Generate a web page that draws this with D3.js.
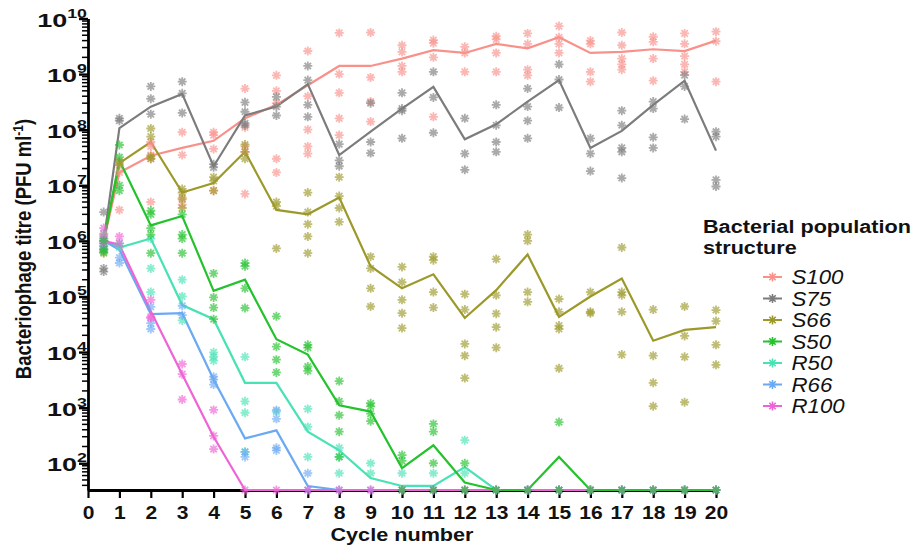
<!DOCTYPE html>
<html>
<head>
<meta charset="utf-8">
<script src="https://cdn.jsdelivr.net/npm/d3@7"></script>
<style>
  body { margin: 0; background: #fff; }
  svg { font-family: "Liberation Sans", Arial, sans-serif; }
</style>
</head>
<body>
<svg id="chart" width="917" height="548"></svg>
<script>
// detection limit, plotted on the x axis
const LOD = 33;

const cycles = [0.5, 1, 2, 3, 4, 5, 6, 7, 8, 9, 10, 11, 12, 13, 14, 15, 16, 17, 18, 19, 20];
const xTicks = d3.range(0, 21);
const yExponents = [2, 3, 4, 5, 6, 7, 8, 9, 10];

const seriesNames = ['S100', 'S75', 'S66', 'S50', 'R50', 'R66', 'R100'];
const seriesColors = ['#F9918B', '#7C7C7C', '#9C992A', '#24C22C', '#48E2B4', '#6BA9F2', '#EE63D6'];

// mean titres
const meanS100 = [1e6, 1.7e7, 3.4e7, 4.7e7, 6.3e7, 1.6e8, 2.8e8, 6.3e8, 1.4e9, 1.4e9, 1.9e9, 2.7e9, 2.4e9, 3.5e9, 2.9e9, 4.6e9, 2.4e9, 2.5e9, 2.8e9, 2.6e9, 4e9];
const meanS75 = [1e6, 1.07e8, 2.6e8, 4.4e8, 2.2e7, 1.8e8, 2.6e8, 6.6e8, 3.5e7, 9.2e7, 2.4e8, 5.9e8, 6.7e7, 1.25e8, 3.2e8, 7.8e8, 4.7e7, 9.5e7, 2.8e8, 7.6e8, 4.2e7];
const meanS66 = [1e6, 2.5e7, 6e7, 7.4e6, 1.1e7, 4e7, 3.6e6, 3e6, 6e6, 3.5e5, 1.4e5, 2.5e5, 4.1e4, 1.3e5, 5.7e5, 4.3e4, 1e5, 2.1e5, 1.6e4, 2.5e4, 2.8e4];
const meanS50 = [1e6, 2.8e7, 1.9e6, 2.8e6, 1.26e5, 2e5, 1.7e4, 9e3, 1.1e3, 8.5e2, 82, 2.1e2, 45, LOD, LOD, 1.3e2, LOD, LOD, LOD, LOD, LOD];
const meanR50 = [1e6, 7.6e5, 1.1e6, 7e4, 3.9e4, 2.8e3, 2.8e3, 3.7e2, 1.7e2, 54, 39, 39, 85, LOD, LOD, LOD, LOD, LOD, LOD, LOD, LOD];
const meanR66 = [1e6, 6.9e5, 4.8e4, 5e4, 3.2e3, 2.8e2, 3.9e2, 39, LOD, LOD, LOD, LOD, LOD, LOD, LOD, LOD, LOD, LOD, LOD, LOD, LOD];
const meanR100 = [1e6, 8.5e5, 5.4e4, 4e3, 3e2, LOD, LOD, LOD, LOD, LOD, LOD, LOD, LOD, LOD, LOD, LOD, LOD, LOD, LOD, LOD, LOD];

// individual replicate titres, one list per cycle
const repS100 = [
  [1.3e6, 9e5, 7e5], [2.5e7, 1.7e7, 3.6e6], [6e7, 5e7, 3.5e7, 3e7, 5e6], [9e7, 3.5e7, 6e6, 4.5e6],
  [9e7, 8e7, 4.5e7, 8e6], [5.5e8, 1.1e8, 5e7, 4e7, 7e6], [9.5e8, 5e8, 3e8, 3e7, 1.7e7],
  [2.6e9, 4e8, 1e8, 5e7, 3.7e7], [5.5e9, 1e9, 4.6e8, 1.6e8, 8e7], [5.6e9, 8.7e8, 3.2e8, 1.4e8],
  [3.3e9, 2.5e9, 1.4e9, 1.1e9], [4.1e9, 3.6e9, 2e9, 1.7e8], [3.1e9, 2.4e9, 1.1e9],
  [4.8e9, 4.2e9, 2.4e9, 1.1e9], [5.4e9, 3.5e9, 1.2e9, 9.5e8], [7.3e9, 4.6e9, 3.5e9, 2.4e9],
  [4e9, 3.5e9, 1.1e9, 7.3e8], [5.6e9, 3.3e9, 1.9e9, 1.5e9, 1.2e9], [4.7e9, 3.8e9, 1.9e9, 7.6e8],
  [5.4e9, 3.5e9, 2.1e9, 1.5e9, 1.1e9], [5.8e9, 3.9e9, 7.3e8]
];
const repS75 = [
  [3.3e6, 1e6, 2.8e5, 3.2e5], [1.6e8, 1.45e8], [6e8, 3.6e8, 1.9e8], [7.3e8, 4.5e8, 2e8],
  [2.4e7, 2.1e7], [3.1e8, 2.1e8, 1.3e8, 1.2e8], [3.9e8, 2.6e8, 1.8e8],
  [1.4e9, 7.8e8, 2.8e8, 1.7e8], [5.5e7, 2.8e7, 2.2e7], [3e8, 6e7, 3.8e7],
  [4.6e8, 2.4e8, 2.2e8, 7e7], [1.1e9, 3.8e8, 8.8e7], [1.6e8, 3.7e7, 1.9e7],
  [2.8e8, 1.2e8, 6e7, 4e7], [5.5e8, 2.6e8, 1.45e8, 7e7], [1.5e9, 8e8, 2.5e8],
  [7e7, 3.7e7, 1.8e7], [2.2e8, 1.2e8, 4.7e7, 4e7, 1.35e7], [3.2e8, 2.4e8, 7.3e7, 4.7e7],
  [9.6e8, 6e8, 1.55e8], [9.2e7, 7.5e7, 1.25e7, 9.5e6]
];
const repS66 = [
  [8e5, 1.1e6, 6e5], [2.7e7, 2.3e7], [1.05e8, 7.5e7, 3.3e7, 3e7], [8.6e6, 7.4e6, 5.6e6, 3.9e6],
  [1.4e7, 1.2e7, 8e6], [5.4e7, 4e7, 3e7], [5e6, 4.2e6, 7.3e5],
  [7.4e6, 3.3e6, 2e6, 1.2e6, 6e5], [1.4e7, 6.4e6, 3.9e6, 2.2e6], [5.2e5, 3.2e5, 1.4e5, 6.6e4],
  [3.4e5, 1.8e5, 8.7e4, 5e4, 2.7e4], [5.2e5, 4.5e5, 1.2e5, 6.3e4], [1.1e5, 5.8e4, 1.4e4, 8.6e3, 3.4e3],
  [4.7e5, 1.05e5, 4.9e4, 2.8e4, 1.2e4], [1.3e6, 1e6, 1.2e5, 8e4], [9e4, 5.3e4, 3e4, 2.6e4, 5.1e3],
  [1.2e5, 5.3e4, 5e4], [7.6e5, 1.2e5, 1.05e5, 5.3e4, 9e3], [5.8e4, 8.6e3, 2.8e3, 1.06e3],
  [6.6e4, 1.95e4, 8.2e3, 1.25e3], [5.7e4, 3.6e4, 1.35e4, 5.9e3]
];
const repS50 = [
  [1e6, 7e5, 6.3e5], [5.3e7, 3.2e7, 1e7, 8e6], [3.5e6, 3e6, 1.7e6, 1.3e6, 6e5], [3e6, 1.3e6, 1.1e6, 6e5],
  [2.6e5, 9.6e4, 6.3e4, 3.9e4], [4e5, 3.5e5, 1.4e5, 6.2e4], [4.4e4, 1.25e4, 7.3e3, 4.3e3],
  [1.35e4, 1.2e4, 5.5e3, 4.6e3], [3e3, 1.3e3, 7.3e2, 3.7e2, 1.3e2], [1.2e3, 1.05e3, 7.8e2, 5.7e2],
  [1.4e2, 1.1e2, LOD], [5.1e2, 3.7e2, 1e2, LOD], [1e2, LOD],
  [LOD], [LOD], [5.5e2, LOD], [LOD], [LOD], [LOD], [LOD], [LOD]
];
const repR50 = [
  [1.35e6, 1.1e6, 9e5], [7.6e5, 9e5], [1.1e6, 3.2e5, 1.2e5], [2e5, 1e5, 3.7e4],
  [9.9e3, 8.2e3, 7e3], [8.2e3, 1.3e3, 8.1e2, 1.6e2], [8.5e2],
  [9.5e2, 4.5e2, 1.3e2], [1.9e2, 1.3e2, 66], [1e2, 66], [66], [66], [2.6e2, 66],
  [LOD], [LOD], [LOD], [LOD], [LOD], [LOD], [LOD], [LOD]
];
const repR66 = [
  [1e6, 8e5, 7e5], [5e5, 4e5], [6.5e4, 3.3e4, 2.6e4], [6.8e4, 4.6e4],
  [3.6e3, 3.2e3, 2.6e3], [1.3e2, 1.6e2], [9e2, 6.3e2, 1.9e2, 1.7e2],
  [66, LOD], [LOD], [LOD], [LOD], [LOD], [LOD],
  [LOD], [LOD], [LOD], [LOD], [LOD], [LOD], [LOD], [LOD]
];
const repR100 = [
  [1.7e6, 1.2e6, 9e5], [1.2e6, 9e5], [8.7e4, 4.3e4, 4.1e4], [6.1e3, 4e3, 1.4e3],
  [9.1e2, 3.1e2, 1.8e2], [LOD], [LOD], [LOD], [LOD], [LOD], [LOD], [LOD], [LOD],
  [LOD], [LOD], [LOD], [LOD], [LOD], [LOD], [LOD], [LOD]
];

const means = [meanS100, meanS75, meanS66, meanS50, meanR50, meanR66, meanR100];
const reps = [repS100, repS75, repS66, repS50, repR50, repR66, repR100];
// green is painted last, it sits on top along the axis at the end
const drawOrder = [0, 1, 2, 4, 5, 6, 3];

let svg = d3.select('#chart');

let x = d3.scaleLinear().domain([0, 20]).range([88, 716]);
let y = d3.scaleLog().domain([LOD, 1e10]).range([490, 18.5]);

// text in the picture is a bit wider than it is tall
function wideText(parent, px, py, sx, rot) {
  let g = parent.append('g')
    .attr('transform', `translate(${px},${py}) scale(${sx},1)` + (rot ? ` rotate(${rot})` : ''));
  return g.append('text');
}

// y axis, minor ticks drawn by hand, majors by the axis
let minorVals = [];
for (let d = 1; d <= 9; d++) {
  for (let m = 2; m <= 9; m++) {
    let v = m * Math.pow(10, d);
    if (v >= LOD && v < 1e10) minorVals.push(v);
  }
}
svg.append('g').selectAll('.minor')
  .data(minorVals)
  .join('line')
  .classed('minor', true)
  .attr('x1', 82).attr('x2', 88)
  .attr('y1', d => y(d)).attr('y2', d => y(d))
  .attr('stroke', '#000')
  .attr('stroke-width', 1.5);

let yAxis = svg.append('g')
  .attr('transform', 'translate(88,0)')
  .call(d3.axisLeft(y).tickValues(yExponents.map(e => Math.pow(10, e))).tickSize(9).tickSizeOuter(0).tickFormat(''));
yAxis.select('.domain').attr('stroke-width', 2.8);
yAxis.selectAll('line').attr('stroke', '#000').attr('stroke-width', 2.4);

yExponents.forEach(e => {
  let t = wideText(svg, 87, y(Math.pow(10, e)), 1.42)
    .attr('text-anchor', 'end')
    .attr('font-weight', 'bold')
    .attr('fill', '#111');
  t.append('tspan').attr('dy', 8).attr('font-size', 19).text('10');
  t.append('tspan').attr('dy', -9).attr('font-size', 12.5).text(e);
});

// x axis
let xAxis = svg.append('g')
  .attr('transform', 'translate(0,490)')
  .call(d3.axisBottom(x).tickValues(xTicks).tickSize(8).tickSizeOuter(0).tickFormat(d3.format('d')));
xAxis.select('.domain').attr('stroke-width', 2.8);
xAxis.selectAll('line').attr('stroke-width', 2.2);
xAxis.selectAll('text')
  .attr('y', 29).attr('dy', null)
  .attr('transform', 'scale(1.17,1)')
  .attr('font-size', 18).attr('font-weight', 'bold')
  .attr('font-family', '"Liberation Sans", Arial, sans-serif')
  .attr('fill', '#111');

// axis titles
wideText(svg, 402, 541, 1.17)
  .attr('text-anchor', 'middle').attr('font-size', 18.5).attr('font-weight', 'bold').attr('fill', '#111')
  .text('Cycle number');

let yTitle = wideText(svg, 31, 249, 1.17, -90)
  .attr('text-anchor', 'middle').attr('font-size', 18.5).attr('font-weight', 'bold').attr('fill', '#111');
yTitle.append('tspan').text('Bacteriophage titre (PFU ml');
yTitle.append('tspan').attr('font-size', 12).attr('dy', -7).text('-1');
yTitle.append('tspan').attr('dy', 7).text(')');

// star marker, like the asterisk symbol in the original
const starPath = 'M-4.5,0L4.5,0M0,-4.5L0,4.5M-3.2,-3.2L3.2,3.2M-3.2,3.2L3.2,-3.2';

let line = d3.line()
  .x(d => x(d.c))
  .y(d => y(d.v));

let plot = svg.append('g');

drawOrder.forEach(i => {
  let pts = cycles.map((c, k) => ({ c: c, v: means[i][k] }));
  plot.append('path')
    .datum(pts)
    .attr('fill', 'none')
    .attr('stroke', seriesColors[i])
    .attr('stroke-width', 2.2)
    .attr('d', line);
});

drawOrder.forEach(i => {
  let pts = [];
  cycles.forEach((c, k) => reps[i][k].forEach(v => pts.push({ c: c, v: v })));
  plot.selectAll('.rep-' + i)
    .data(pts)
    .join('path')
    .attr('class', 'rep-' + i)
    .attr('transform', d => `translate(${x(d.c)},${y(d.v)})`)
    .attr('d', starPath)
    .attr('stroke', seriesColors[i])
    .attr('stroke-width', 1.8)
    .attr('stroke-opacity', 0.65)
    .attr('fill', 'none');
});

// legend
let legend = svg.append('g');
wideText(legend, 703, 232.5, 1.17)
  .attr('font-size', 18.5).attr('font-weight', 'bold').attr('fill', '#111')
  .text('Bacterial population');
wideText(legend, 703, 254, 1.17)
  .attr('font-size', 18.5).attr('font-weight', 'bold').attr('fill', '#111')
  .text('structure');

seriesNames.forEach((name, i) => {
  let base = 284 + i * 21.5;
  let cy = base - 7;
  legend.append('line')
    .attr('x1', 763).attr('x2', 782).attr('y1', cy).attr('y2', cy)
    .attr('stroke', seriesColors[i]).attr('stroke-width', 2);
  legend.append('path')
    .attr('transform', `translate(772.5,${cy})`)
    .attr('d', starPath)
    .attr('stroke', seriesColors[i]).attr('stroke-width', 1.6).attr('fill', 'none');
  wideText(legend, 791.5, base, 1.14)
    .attr('font-size', 19.5).attr('font-style', 'italic').attr('fill', '#111')
    .text(name);
});
</script>
</body>
</html>
